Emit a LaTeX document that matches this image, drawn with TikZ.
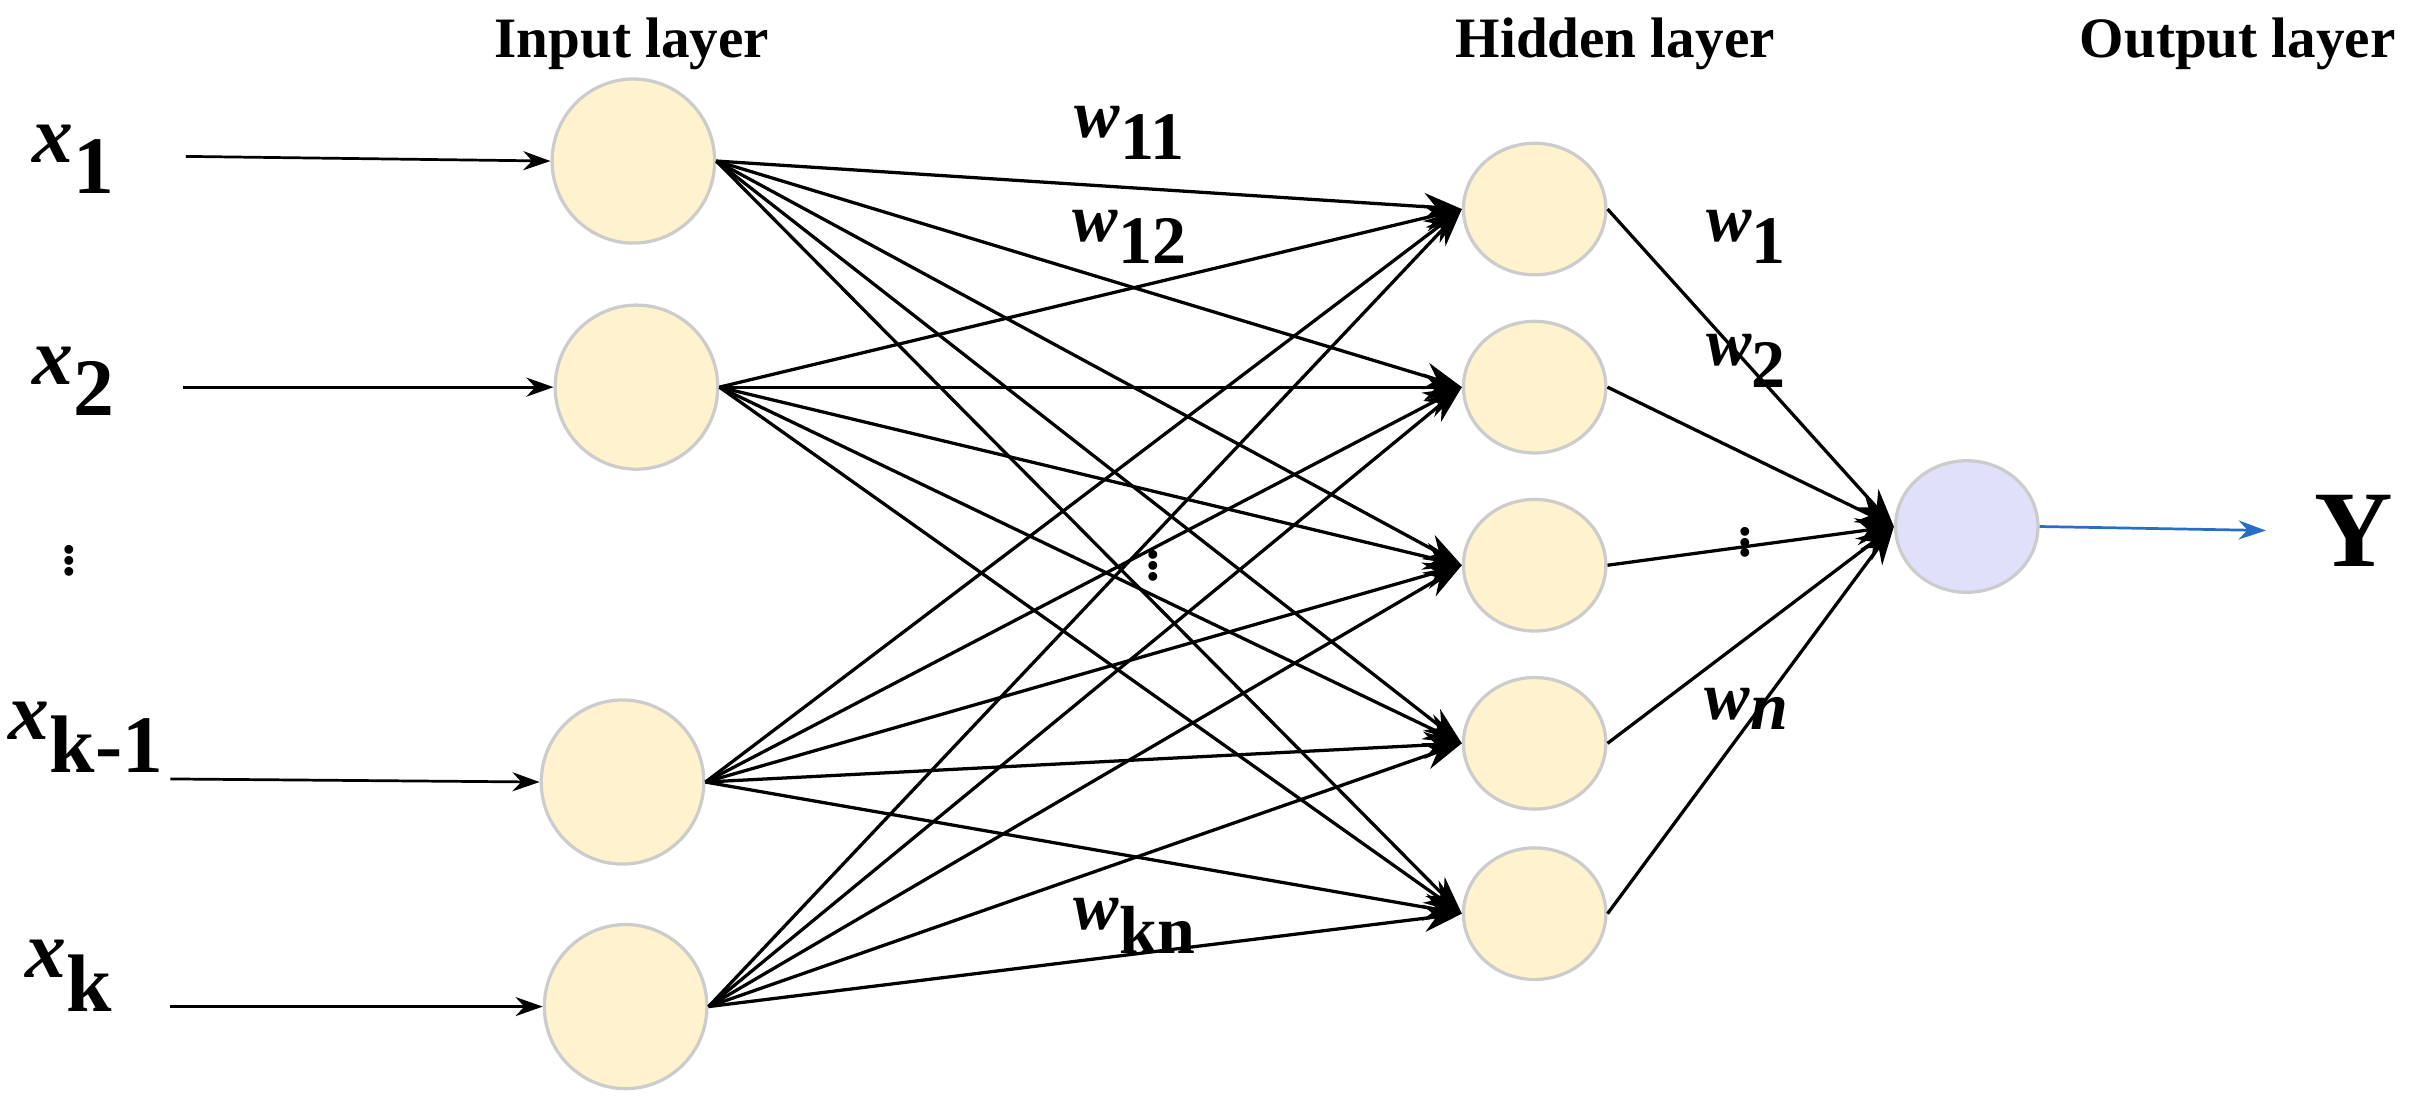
\documentclass[tikz,border=0pt]{standalone}
\usepackage{fontspec}
\setmainfont{Liberation Serif}
\usetikzlibrary{positioning, calc, shapes.geometric, arrows.meta}
\definecolor{inyellow}{RGB}{255,242,206}
\definecolor{outblue}{RGB}{224,224,250}
\definecolor{arrblue}{RGB}{38,110,200}
\newcommand{\bi}[1]{\textbf{\textit{#1}}}
\begin{document}
\begin{tikzpicture}[x=0.02cm, y=-0.02cm,
    neuron/.style={ellipse, draw=gray!40, fill=inyellow, inner sep=0pt},
    inneuron/.style={neuron, minimum width=2.1cm, minimum height=2.12cm},
    hidneuron/.style={neuron, minimum width=1.84cm, minimum height=1.7cm},
    outneuron/.style={hidneuron, fill=outblue},
    title/.style={font=\fontsize{21}{21}\selectfont\bfseries},
    xlab/.style={font=\fontsize{30}{30}\selectfont\bfseries},
    wlab/.style={font=\fontsize{25}{25}\selectfont\bfseries},
    vdots/.style={font=\fontsize{20}{20}\selectfont\bfseries},
    >={Stealth[length=14pt, width=10pt]}, line width=1.2pt]
  \useasboundingbox (0,0) rectangle (1564,709);

  % titles
  \node[title] at (408,28) {Input layer};
  \node[title] at (1043,28) {Hidden layer};
  \node[title] at (1445,28) {Output layer};

  % input layer
  \node[inneuron] (I1) at (409,104) {};
  \node[inneuron] (I2) at (411,250) {};
  \node[inneuron] (I3) at (402,505) {};
  \node[inneuron] (I4) at (404,650) {};

  \node[xlab] (X1) at (48,103) {\bi{x}$_{\textbf{1}}$};
  \node[xlab] (X2) at (48,246) {\bi{x}$_{\textbf{2}}$};
  \node[xlab] (X3) at (56,476) {\bi{x}$_{\textbf{k-1}}$};
  \node[xlab] (X4) at (45,630) {\bi{x}$_{\textbf{k}}$};
  \node[vdots] at (45,357) {$\vdots$};

  \coordinate (S1) at (120,101);
  \coordinate (S2) at (118,250);
  \coordinate (S3) at (110,503);
  \coordinate (S4) at (110,650);
  \foreach \i in {1,...,4}
    \draw[->, line width=1pt, >={Stealth[length=10pt, width=7pt]}] (S\i) -- (I\i.west);

  % hidden layer
  \foreach \j/\y in {1/135, 2/250, 3/365, 4/480, 5/590}
    \node[hidneuron] (H\j) at (991,\y) {};

  % input -> hidden
  \foreach \i in {1,...,4}
    \foreach \j in {1,...,5}
      \draw[->] (I\i.east) -- (H\j.west);

  % output layer
  \node[outneuron] (O) at (1270,340) {};
  \node[font=\fontsize{40}{40}\selectfont\bfseries] (Y) at (1520,343) {Y};
  \foreach \j in {1,...,5}
    \draw[->] (H\j.east) -- (O.west);
  \draw[->, arrblue, line width=1pt, shorten >=14pt, >={Stealth[length=10pt, width=7pt]}] (O.east) -- (Y.west);

  % weights
  \node[wlab] at (730,86) {\bi{w}$_{\textbf{11}}$};
  \node[wlab] at (730,153) {\bi{w}$_{\textbf{12}}$};
  \node[wlab] at (733,598) {\bi{w}$_{\textbf{kn}}$};
  \node[vdots] at (745,360) {$\vdots$};
  \node[wlab] at (1128,153) {\bi{w}$_{\textbf{1}}$};
  \node[wlab] at (1128,233) {\bi{w}$_{\textbf{2}}$};
  \node[vdots] at (1127,345) {$\vdots$};
  \node[wlab] at (1128,458) {\bi{w}$_{\bi{n}}$};
\end{tikzpicture}
\end{document}
